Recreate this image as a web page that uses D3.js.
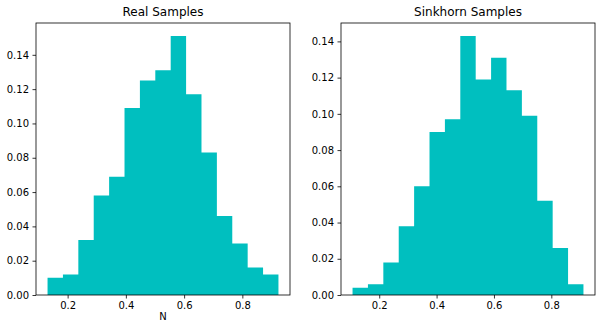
<!DOCTYPE html>
<html>
<head>
<meta charset="utf-8">
<script src="https://cdn.jsdelivr.net/npm/d3@7"></script>
<style>
  body { margin: 0; background: #fff; }
  text { font-family: "DejaVu Sans", sans-serif; fill: #000; }
</style>
</head>
<body>
<div id="chart"></div>
<script>
// histogram data (density per bin, 15 bins each)
var realRange = [0.131, 0.924];
var realDensity = [0.010, 0.012, 0.032, 0.058, 0.069, 0.109, 0.125, 0.131, 0.151, 0.117, 0.083, 0.046, 0.030, 0.016, 0.012];

var sinkRange = [0.107, 0.912];
var sinkDensity = [0.004, 0.006, 0.018, 0.038, 0.060, 0.090, 0.097, 0.143, 0.119, 0.131, 0.113, 0.099, 0.052, 0.026, 0.006];

var xTicks = [0.2, 0.4, 0.6, 0.8];
var realYTicks = [0, 0.02, 0.04, 0.06, 0.08, 0.10, 0.12, 0.14];
var sinkYTicks = [0, 0.02, 0.04, 0.06, 0.08, 0.10, 0.12, 0.14];

var width = 605, height = 327;
var svg = d3.select("#chart").append("svg")
    .attr("width", width)
    .attr("height", height);

function drawHist(left, right, title, range, dens, yTicks, xlabel) {
    var top = 23, bottom = 295;
    var n = dens.length;
    var bw = (range[1] - range[0]) / n;
    var bins = dens.map(function(d, i) {
        return {x0: range[0] + i * bw, x1: range[0] + (i + 1) * bw, y: d};
    });
    var span = range[1] - range[0];
    var ymax = d3.max(dens) * 1.05;

    var x = d3.scaleLinear()
        .domain([range[0] - span * 0.05, range[1] + span * 0.05])
        .range([left, right]);
    var y = d3.scaleLinear().domain([0, ymax]).range([bottom, top]);

    var g = svg.append("g");

    // draw each histogram as one step path so no seams show between bars
    var pts = [];
    bins.forEach(function(d) {
        pts.push([x(d.x0), y(d.y)]);
        pts.push([x(d.x1), y(d.y)]);
    });
    var area = d3.area()
        .x(function(p) { return p[0]; })
        .y0(bottom)
        .y1(function(p) { return p[1]; });
    g.append("path")
        .datum(pts)
        .attr("d", area)
        .style("fill", "#00bfbf")
        .style("stroke", "none");

    var xAxis = d3.axisBottom(x).tickValues(xTicks)
        .tickSize(3.5).tickPadding(3.5)
        .tickFormat(d3.format(".1f"));
    var yAxis = d3.axisLeft(y).tickValues(yTicks)
        .tickSize(3.5).tickPadding(3.5)
        .tickFormat(d3.format(".2f"));

    var xa = g.append("g")
        .attr("transform", "translate(0," + bottom + ")")
        .call(xAxis);
    var ya = g.append("g")
        .attr("transform", "translate(" + left + ",0)")
        .call(yAxis);
    [xa, ya].forEach(function(a) {
        a.select(".domain").remove();
        a.selectAll("line").style("stroke", "#000").style("stroke-width", 0.8);
        a.selectAll("text").style("font-size", "10px")
            .style("font-family", "DejaVu Sans, sans-serif");
    });

    // frame
    g.append("rect")
        .attr("x", left).attr("y", top)
        .attr("width", right - left).attr("height", bottom - top)
        .style("fill", "none")
        .style("stroke", "#000")
        .style("stroke-width", 0.8);

    g.append("text")
        .attr("x", (left + right) / 2)
        .attr("y", top - 7)
        .style("text-anchor", "middle")
        .style("font-size", "12px")
        .text(title);

    if (xlabel) {
        g.append("text")
            .attr("x", (left + right) / 2)
            .attr("y", bottom + 25)
            .style("text-anchor", "middle")
            .style("font-size", "10px")
            .text(xlabel);
    }
}

drawHist(36, 290, "Real Samples", realRange, realDensity, realYTicks, "N");
drawHist(341, 595, "Sinkhorn Samples", sinkRange, sinkDensity, sinkYTicks, null);
</script>
</body>
</html>
